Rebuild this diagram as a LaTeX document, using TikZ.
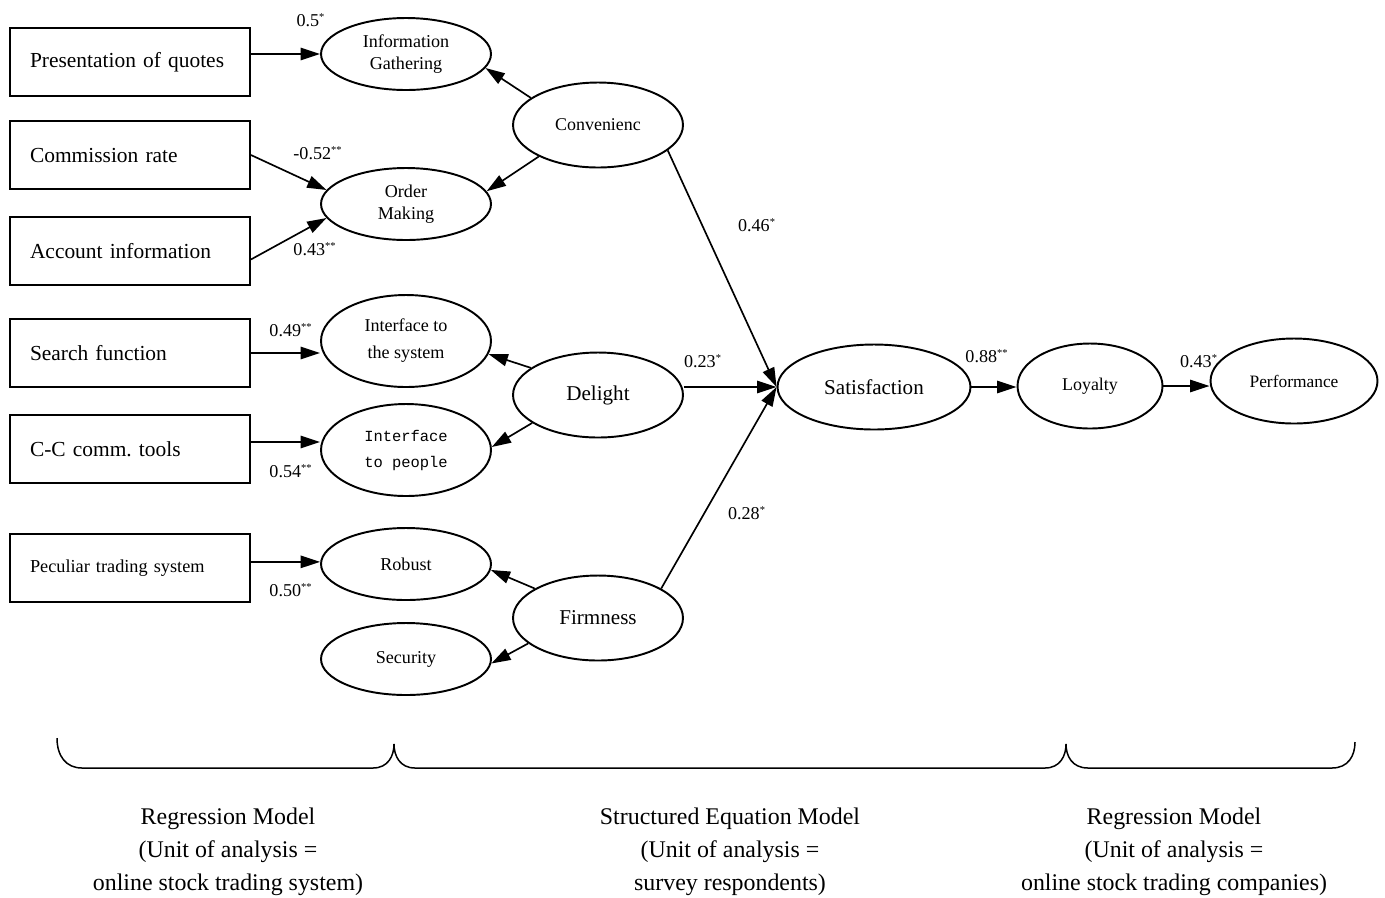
\documentclass[tikz,border=0pt]{standalone}
\usepackage{fontspec}
\setmainfont{Liberation Serif}
\newfontfamily\monofont{Liberation Mono}
\usepackage{tikz}
\usetikzlibrary{shapes.geometric}
\usetikzlibrary{arrows.meta}
\frenchspacing

\newcommand{\sg}[1]{\textsuperscript{\fontsize{6}{6}\selectfont #1}}

\begin{document}
\begin{tikzpicture}[x=0.02cm, y=-0.02cm,
  box/.style={draw, rectangle, line width=1.1pt, minimum width=4.8cm, minimum height=1.36cm, inner xsep=0.4cm, text width=4cm, align=left, font=\fontsize{12.2}{14}\selectfont},
  ell/.style={draw, ellipse, line width=1.1pt, inner sep=0pt, minimum width=3.4cm, minimum height=1.44cm, align=center, font=\fontsize{10.3}{12.5}\selectfont},
  big/.style={ell, minimum height=1.7cm, font=\fontsize{12}{14}\selectfont},
  coef/.style={inner sep=0pt, font=\fontsize{10.3}{12}\selectfont},
  link/.style={line width=0.95pt, -{Triangle[length=11pt, width=7pt]}},
  foot/.style={align=center, font=\fontsize{13.6}{18.8}\selectfont}]
\useasboundingbox (0,0) rectangle (1385,897);

% measured system features
\node[box] (m1) at (130,62) {Presentation of quotes};
\node[box] (m2) at (130,155) {Commission rate};
\node[box] (m3) at (130,251) {Account information};
\node[box] (m4) at (130,353) {Search function};
\node[box] (m5) at (130,449) {C-C comm. tools};
\node[box, font=\fontsize{10.4}{12}\selectfont] (m6) at (130,568) {Peculiar trading system};

% sub dimensions
\node[ell] (e1) at (406,54) {Information\\Gathering};
\node[ell] (e2) at (406,204) {Order\\Making};
\node[ell, minimum height=1.84cm, font=\fontsize{10.3}{15.4}\selectfont] (e3) at (406,341) {Interface to\\the system};
\node[ell, minimum height=1.84cm, font=\monofont\fontsize{8.8}{14.8}\selectfont] (e4) at (406,450) {Interface\\to people};
\node[ell] (e5) at (406,564) {Robust};
\node[ell] (e6) at (406,659) {Security};

% constructs
\node[big, font=\fontsize{10.2}{12}\selectfont] (c) at (598,125) {Convenienc};
\node[big] (d) at (598,395) {Delight};
\node[big] (f) at (598,618) {Firmness};
\node[big, minimum width=3.86cm] (s) at (874,387) {Satisfaction};
\node[big, minimum width=2.9cm, font=\fontsize{10.2}{12}\selectfont] (l) at (1090,386) {Loyalty};
\node[big, minimum width=3.34cm, font=\fontsize{9.9}{12}\selectfont] (p) at (1294,381) {Performance};

\draw[link] (m1.east |- e1.west) -- (e1.west);
\draw[link] (m2.east) -- (e2.170);
\draw[link] (m3.-4) -- (e2.190);
\draw[link] (m4.east) -- (m4.east -| e3.west);
\draw[link] ([yshift=4pt]m5.east) -- ([yshift=4pt]m5.east -| e4.west);
\draw[link] ([yshift=3.5pt]m6.east) -- ([yshift=3.5pt]m6.east -| e5.west);

\draw[link] (c.158) -- (e1.-10);
\draw[link] (c.208) -- (e2.9);
\draw[link] (d.158) -- (e3.-9);
\draw[link] (d.203) -- (e4.2);
\draw[link] (f.155) -- (e5.-4);
\draw[link] (f.200) -- (e6.-3);

\draw[link] (c.-20) -- (s.west);
\draw[link] (d.east |- s.west) -- (s.west);
\draw[link] (f.25) -- (s.west);
\draw[link] (s.east) -- (s.east -| l.west);
\draw[link] (l.east) -- (l.east -| p.west);

% path coefficients
\node[coef] (k1) at (311,20) {0.5\sg{*}};
\node[coef] (k2) at (318,153) {-0.52\sg{**}};
\node[coef] (k3) at (315,249) {0.43\sg{**}};
\node[coef] (k4) at (291,330) {0.49\sg{**}};
\node[coef] (k5) at (291,471) {0.54\sg{**}};
\node[coef] (k6) at (291,590) {0.50\sg{**}};
\node[coef] (k7) at (757,225) {0.46\sg{*}};
\node[coef] (k8) at (703,361) {0.23\sg{*}};
\node[coef] (k9) at (747,513) {0.28\sg{*}};
\node[coef] (k10) at (987,356) {0.88\sg{**}};
\node[coef] (k11) at (1199,361) {0.43\sg{*}};

% brace
\draw[line width=0.85pt] (57,738) .. controls (57,756) and (66,768) .. (82,768) -- (373,768)
  .. controls (388,768) and (394,756) .. (394,744) .. controls (394,756) and (400,768) .. (415,768) -- (1045,768)
  .. controls (1060,768) and (1066,756) .. (1066,744) .. controls (1066,756) and (1072,768) .. (1088,768) -- (1332,768)
  .. controls (1348,768) and (1355,756) .. (1355,742);

\node[foot] (g1) at (228,852) {Regression Model\\(Unit of analysis =\\online stock trading system)};
\node[foot] (g2) at (730,852) {Structured Equation Model\\(Unit of analysis =\\survey respondents)};
\node[foot] (g3) at (1174,852) {Regression Model\\(Unit of analysis =\\online stock trading companies)};
\end{tikzpicture}
\end{document}
